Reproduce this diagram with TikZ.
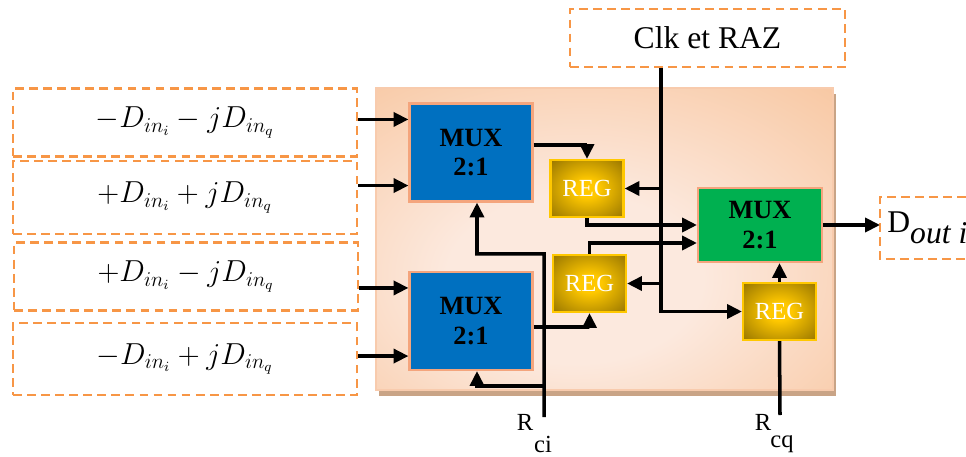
\documentclass[tikz,border=0pt]{standalone}
\usepackage{fontspec}
\setmainfont{Liberation Serif}
\usepackage{tikz}
\usetikzlibrary{positioning}
\usetikzlibrary{shapes,calc,arrows.meta,shadows}
\definecolor{dashorange}{HTML}{F79646}
\definecolor{muxblue}{HTML}{0070C0}
\definecolor{muxgreen}{HTML}{00B050}
\definecolor{muxedge}{HTML}{F4A57D}
\definecolor{regin}{HTML}{FFC800}
\definecolor{regout}{HTML}{7F6200}
\definecolor{panelin}{HTML}{FCE9DE}
\definecolor{panelout}{HTML}{F6B581}
\definecolor{paneledge}{HTML}{F8CBAD}
\definecolor{panelshadow}{HTML}{C9A486}
\pgfdeclareradialshading{reggold}{\pgfpoint{0bp}{0bp}}{color(0bp)=(regin); color(8bp)=(regin); color(42bp)=(regout); color(75bp)=(regout)}
\pgfdeclareradialshading{panelglow}{\pgfpoint{-4bp}{-8bp}}{color(0bp)=(panelin); color(14bp)=(panelin); color(55bp)=(panelout); color(80bp)=(panelout)}
\tikzset{
  semithick,
  inbox/.style = {draw=dashorange, dash pattern=on 5pt off 3pt, line width=1.2pt,
   minimum width=6.88cm, minimum height=1.36cm, font=\fontsize{17}{20}\selectfont},
  dashline/.style = {draw=dashorange, dash pattern=on 5pt off 3pt, line width=1.2pt},
  panel/.style = {draw=paneledge, line width=1.2pt, shade, shading=panelglow,
   minimum width=9.14cm, minimum height=6.04cm,
   drop shadow={shadow xshift=0.06cm, shadow yshift=-0.12cm, fill=panelshadow, opacity=1}},
  muxbox/.style = {rectangle, draw=muxedge, line width=1.2pt, minimum width=2.46cm,
   minimum height=1.96cm, align=center, font=\fontsize{15}{17}\selectfont\bfseries},
  regbox/.style = {rectangle, draw=regin, line width=1.2pt, shade, shading=reggold,
   minimum width=1.46cm, minimum height=1.14cm, text=white, font=\fontsize{14}{16}\selectfont},
  arr/.style = {line width=2pt, -{Triangle[length=8.5pt,width=8pt]}},
  wire/.style = {line width=2pt},
  lbl/.style = {inner sep=0pt, font=\fontsize{14}{16}\selectfont},
}
\begin{document}
\begin{tikzpicture}[x=0.02cm, y=-0.02cm]
  \useasboundingbox (0,0) rectangle (966,456);
  \node[panel] (core) at (604.5,239) {};

  \node[inbox] (inA) at (185,122.5) {$-D_{in_i} - jD_{in_q}$};
  \node[inbox, minimum height=1.46cm] (inB) at (185,197.5) {$+D_{in_i} + jD_{in_q}$};
  \node[inbox] (inC) at (186,276.5) {$+D_{in_i} - jD_{in_q}$};
  \node[inbox, minimum height=1.44cm] (inD) at (185,359) {$-D_{in_i} + jD_{in_q}$};
  \node[inbox, minimum width=5.5cm, minimum height=1.16cm,
   font=\fontsize{18}{20}\selectfont] (clk) at (707.5,38) {Clk et RAZ};
  \node[anchor=west, inner xsep=4pt, minimum height=1.24cm,
   font=\fontsize{18}{20}\selectfont] (dout) at (880,228) {D$_{\textit{out i}}$};
  \coordinate (rim) at (966,0);
  \draw[dashline] (dout.north west -| rim) -- (dout.north west) -- (dout.south west) -- (dout.south west -| rim);

  \node[muxbox, fill=muxblue] (muxA) at (471,152.5) {MUX\\2:1};
  \node[muxbox, fill=muxblue] (muxB) at (471,321) {MUX\\2:1};
  \node[muxbox, fill=muxgreen, minimum width=2.48cm, minimum height=1.48cm] (muxC) at (760,225) {MUX\\2:1};
  \node[regbox] (regA) at (587,188.5) {REG};
  \node[regbox] (regB) at (589.5,283.5) {REG};
  \node[regbox] (regC) at (779.5,311.5) {REG};

  \coordinate (a1) at ([yshift=-0.34cm]muxA.north west);
  \coordinate (a2) at ([yshift=0.34cm]muxA.south west);
  \coordinate (a3) at ([yshift=-0.34cm]muxB.north west);
  \coordinate (a4) at ([yshift=0.3cm]muxB.south west);
  \draw[arr] (a1 -| inA.east) -- (a1);
  \draw[arr] (a2 -| inB.east) -- (a2);
  \draw[arr] (a3 -| inC.east) -- (a3);
  \draw[arr] (a4 -| inD.east) -- (a4);

  \draw[arr] ([yshift=0.15cm]muxA.east) -| (regA.north);
  \draw[arr] ([yshift=-0.12cm]muxB.east) -| (regB.south);

  \coordinate (bus) at (661,0);
  \draw[arr] (clk.south -| bus) |- (regC.west);
  \draw[arr] (regA.east -| bus) -- (regA.east);
  \draw[arr] (regB.east -| bus) -- (regB.east);

  \draw[arr] (regA.south) |- (muxC.west);
  \draw[arr] (regB.north) |- ([yshift=-0.36cm]muxC.west);
  \draw[arr] (regC.north) -- (regC.north |- muxC.south);
  \draw[arr] (muxC.east) -- (muxC.east -| dout.west);

  \coordinate (rci) at (544,417);
  \coordinate (split) at ($(muxA.south)!0.75!(muxB.north)$);
  \coordinate (low) at ([yshift=-0.3cm]muxB.south);
  \draw[arr] (rci) |- ([xshift=0.12cm]split) -- ([xshift=0.12cm]muxA.south);
  \draw[arr] (rci |- low) -| ([xshift=0.12cm]muxB.south);
  \node[lbl] (rciR) at (525,422) {R};
  \node[lbl] (rciS) at (543,444) {ci};

  \coordinate (rcq) at (780,415);
  \draw[wire] (rcq) -- (regC.south);
  \node[lbl] (rcqR) at (763,422) {R};
  \node[lbl] (rcqS) at (782,444) {cq};
\end{tikzpicture}
\end{document}
